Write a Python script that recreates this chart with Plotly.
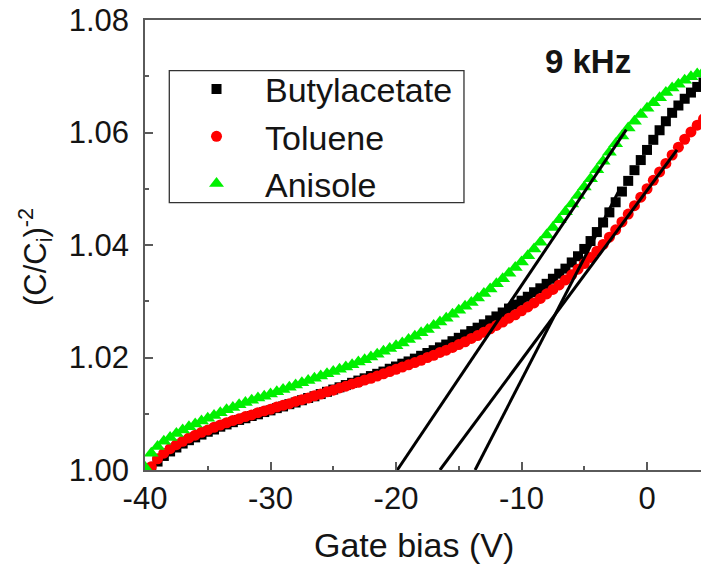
import plotly.graph_objects as go

# Gate bias sweep (V), 0.5 V steps
gate_bias = [-40.0 + 0.5 * i for i in range(90)]

series_names = ["Butylacetate", "Toluene", "Anisole"]

butylacetate = [
    0.9988, 1.0002, 1.0015, 1.0025, 1.0033, 1.0040, 1.0047, 1.0053, 1.0058, 1.0063,
    1.0068, 1.0072, 1.0077, 1.0081, 1.0085, 1.0089, 1.0092, 1.0096, 1.0099, 1.0103,
    1.0106, 1.0110, 1.0113, 1.0117, 1.0120, 1.0124, 1.0128, 1.0131, 1.0135, 1.0139,
    1.0143, 1.0147, 1.0151, 1.0155, 1.0159, 1.0163, 1.0167, 1.0171, 1.0175, 1.0180,
    1.0184, 1.0189, 1.0193, 1.0198, 1.0203, 1.0208, 1.0213, 1.0218, 1.0223, 1.0229,
    1.0235, 1.0241, 1.0247, 1.0253, 1.0259, 1.0266, 1.0273, 1.0280, 1.0287, 1.0294,
    1.0301, 1.0308, 1.0316, 1.0323, 1.0331, 1.0340, 1.0349, 1.0358, 1.0369, 1.0380,
    1.0393, 1.0407, 1.0423, 1.0440, 1.0458, 1.0476, 1.0495, 1.0514, 1.0533, 1.0551,
    1.0569, 1.0587, 1.0604, 1.0620, 1.0635, 1.0648, 1.0660, 1.0671, 1.0681, 1.0689,
]

toluene = [
    0.9990, 1.0006, 1.0020, 1.0030, 1.0038, 1.0045, 1.0051, 1.0057, 1.0062, 1.0067,
    1.0071, 1.0076, 1.0080, 1.0084, 1.0088, 1.0091, 1.0095, 1.0098, 1.0102, 1.0105,
    1.0108, 1.0112, 1.0115, 1.0118, 1.0122, 1.0125, 1.0128, 1.0132, 1.0135, 1.0139,
    1.0142, 1.0146, 1.0149, 1.0153, 1.0156, 1.0160, 1.0163, 1.0167, 1.0171, 1.0175,
    1.0179, 1.0183, 1.0187, 1.0191, 1.0195, 1.0200, 1.0204, 1.0209, 1.0213, 1.0218,
    1.0223, 1.0228, 1.0234, 1.0239, 1.0245, 1.0251, 1.0257, 1.0263, 1.0270, 1.0276,
    1.0283, 1.0290, 1.0297, 1.0305, 1.0313, 1.0321, 1.0329, 1.0338, 1.0347, 1.0357,
    1.0367, 1.0378, 1.0389, 1.0401, 1.0414, 1.0427, 1.0441, 1.0455, 1.0470, 1.0485,
    1.0500, 1.0515, 1.0530, 1.0545, 1.0560, 1.0574, 1.0588, 1.0601, 1.0613, 1.0624,
]

anisole = [
    1.0005, 1.0030, 1.0042, 1.0051, 1.0058, 1.0065, 1.0071, 1.0077, 1.0082, 1.0087,
    1.0092, 1.0097, 1.0102, 1.0107, 1.0111, 1.0116, 1.0120, 1.0124, 1.0128, 1.0131,
    1.0135, 1.0139, 1.0143, 1.0147, 1.0151, 1.0155, 1.0159, 1.0163, 1.0167, 1.0171,
    1.0175, 1.0179, 1.0183, 1.0187, 1.0192, 1.0196, 1.0201, 1.0206, 1.0211, 1.0216,
    1.0221, 1.0226, 1.0232, 1.0238, 1.0244, 1.0250, 1.0257, 1.0263, 1.0270, 1.0277,
    1.0284, 1.0291, 1.0298, 1.0306, 1.0314, 1.0322, 1.0331, 1.0340, 1.0350, 1.0360,
    1.0370, 1.0381, 1.0393, 1.0405, 1.0418, 1.0431, 1.0445, 1.0459, 1.0473, 1.0488,
    1.0503, 1.0518, 1.0534, 1.0549, 1.0565, 1.0580, 1.0594, 1.0608, 1.0620, 1.0632,
    1.0643, 1.0653, 1.0662, 1.0671, 1.0679, 1.0686, 1.0693, 1.0699, 1.0704, 1.0708,
]

# Linear extrapolations of the steep part of each curve
fit_butylacetate_x = [-13.7, -2.3]
fit_butylacetate_y = [1.0000, 1.0494]
fit_toluene_x = [-16.5, 2.39]
fit_toluene_y = [1.0000, 1.0569]
fit_anisole_x = [-19.9, -1.65]
fit_anisole_y = [1.0000, 1.0605]

# Axis ticks (plain hyphen for the negative labels)
x_tick_vals = [-40, -30, -20, -10, 0]
x_tick_labels = ["-40", "-30", "-20", "-10", "0"]
y_tick_vals = [1.00, 1.02, 1.04, 1.06, 1.08]
y_tick_labels = ["1.00", "1.02", "1.04", "1.06", "1.08"]

FONT = "Liberation Sans, Arial, sans-serif"
AXIS = "#5a5a5a"
TEXT = "#141414"

marker_styles = [
    dict(symbol="square", size=10, color="#000000", line=dict(width=0)),
    dict(symbol="circle", size=11, color="#ff0000", line=dict(width=0)),
    dict(symbol="triangle-up", size=13, color="#00f000", line=dict(width=0)),
]

fig = go.Figure()

for name, values, style in zip(series_names, [butylacetate, toluene, anisole], marker_styles):
    fig.add_trace(go.Scatter(x=gate_bias, y=values, mode="markers", name=name, marker=style))

for fx, fy in [(fit_anisole_x, fit_anisole_y),
               (fit_toluene_x, fit_toluene_y),
               (fit_butylacetate_x, fit_butylacetate_y)]:
    fig.add_trace(go.Scatter(
        x=fx, y=fy, mode="lines", showlegend=False, hoverinfo="skip",
        line=dict(color="#000000", width=3),
    ))

fig.update_layout(
    width=701, height=564,
    margin=dict(l=145, r=0, t=20, b=94),
    paper_bgcolor="white", plot_bgcolor="white",
    font=dict(family=FONT, color=TEXT),
    showlegend=True,
    legend=dict(
        x=0.0414, y=0.910, xanchor="left", yanchor="top",
        bgcolor="rgba(255,255,255,0)", borderwidth=0,
        font=dict(family=FONT, size=34, color=TEXT),
        itemwidth=87, tracegroupgap=0,
    ),
    shapes=[
        # frame around the legend
        dict(type="rect", xref="paper", yref="paper",
             x0=0.0437, x1=0.5737, y0=0.594, y1=0.8873,
             line=dict(color="#333333", width=1.3), fillcolor="rgba(0,0,0,0)"),
    ],
    xaxis=dict(
        range=[-40, 4.3],
        tickmode="array", tickvals=x_tick_vals, ticktext=x_tick_labels,
        ticks="inside", ticklen=8, tickwidth=1.5, tickcolor=AXIS,
        minor=dict(dtick=5, tick0=0, ticks="inside", ticklen=4, tickwidth=1.5, tickcolor=AXIS),
        showline=True, linecolor=AXIS, linewidth=1.5, mirror=True,
        showgrid=False, zeroline=False,
        tickfont=dict(family=FONT, size=31, color=TEXT),
        ticklabelstandoff=0,
    ),
    yaxis=dict(
        range=[1.0, 1.08],
        tickmode="array", tickvals=y_tick_vals, ticktext=y_tick_labels,
        ticks="inside", ticklen=8, tickwidth=1.5, tickcolor=AXIS,
        minor=dict(dtick=0.01, tick0=1.0, ticks="inside", ticklen=4, tickwidth=1.5, tickcolor=AXIS),
        showline=True, linecolor=AXIS, linewidth=1.5, mirror=False,
        showgrid=False, zeroline=False,
        tickfont=dict(family=FONT, size=31, color=TEXT),
        ticklabelstandoff=8,
    ),
    annotations=[
        dict(text="<b>9 kHz</b>", xref="paper", yref="paper", x=0.7968, y=0.9067,
             xanchor="center", yanchor="middle", showarrow=False,
             font=dict(family=FONT, size=33, color=TEXT)),
        dict(text="Gate bias (V)", xref="paper", yref="paper", x=0.4838, y=-0.1667,
             xanchor="center", yanchor="middle", showarrow=False,
             font=dict(family=FONT, size=34, color=TEXT)),
        dict(text="(C/C<sub>i</sub>)<sup>-2</sup>", xref="paper", yref="paper",
             x=-0.198, y=0.473, xanchor="center", yanchor="middle", textangle=-90,
             showarrow=False, font=dict(family=FONT, size=31, color=TEXT)),
    ],
)

fig.write_html("out.html")
